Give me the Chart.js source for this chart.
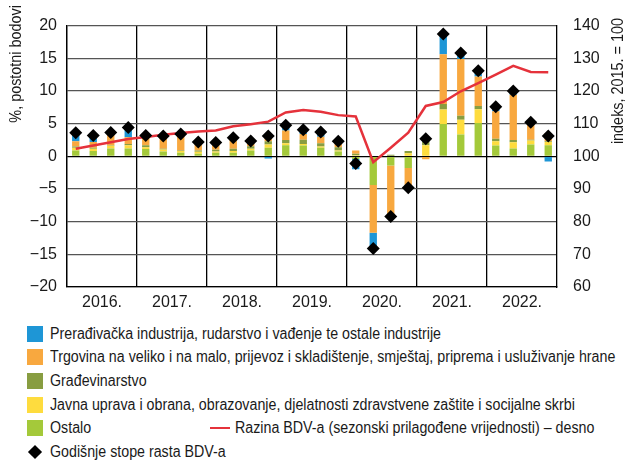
<!DOCTYPE html>
<html>
<head>
<meta charset="utf-8">
<script src="https://cdn.jsdelivr.net/npm/chart.js@4.4.1/dist/chart.umd.min.js"></script>
<style>
  body { margin: 0; background: #fff; }
  #wrap { position: relative; width: 632px; height: 464px; overflow: hidden;
          font-family: "Liberation Sans", Arial, sans-serif; color: #1a1a1a; }
  #chart { position: absolute; left: 0; top: 0; }
  .row { position: absolute; height: 24px; line-height: 24px; font-size: 16px; white-space: nowrap; }
  .sw { position: absolute; left: 27px; top: 4px; width: 16px; height: 16px; }
  .txt { position: absolute; left: 50px; top: 0; display: inline-block;
         transform: scaleX(0.89); transform-origin: left center; }
  .redline { position: absolute; left: 210px; top: 11px; width: 20px; height: 2px; background: #e5323b; }
  .diamond { position: absolute; left: 30px; top: 7px; width: 10px; height: 10px; background: #000; transform: rotate(45deg); }
</style>
</head>
<body>
<div id="wrap">
  <canvas id="chart" width="632" height="318"></canvas>
  <div id="legend"></div>
</div>
<script>
// ─── DATA ─────────────────────────────────────────────────────
const quarters = [
  "I.16", "II.16", "III.16", "IV.16",
  "I.17", "II.17", "III.17", "IV.17",
  "I.18", "II.18", "III.18", "IV.18",
  "I.19", "II.19", "III.19", "IV.19",
  "I.20", "II.20", "III.20", "IV.20",
  "I.21", "II.21", "III.21", "IV.21",
  "I.22", "II.22", "III.22", "IV.22"
];
const yearLabels = ["2016.", "2017.", "2018.", "2019.", "2020.", "2021.", "2022."];
const leftTicks  = [-20, -15, -10, -5, 0, 5, 10, 15, 20];
const rightTicks = [60, 70, 80, 90, 100, 110, 120, 130, 140];

// contributions, percentage points (stacked from zero in this order)
const ostalo = [
  0.9, 0.8, 1.2, 1.2,   1.1, 0.75, 0.55, 0.4,   0.55, 0.55, 0.9, 1.3,   1.7, 1.65, 1.3, 0.75,
  -0.4, -4.4, -1.4, -1.8,   0, 4.95, 3.35, 5.1,   1.65, 1.2, 1.8, 1.7
];
const javnaUprava = [
  0.4, 0.35, 0.4, 0.5,   0.3, 0.3, 0.25, 0.3,   0.2, 0.25, 0.25, 0.5,   0.3, 0.25, 0.2, 0.15,
  0.15, 0, 0, 0.45,   1.7, 2.2, 2.25, 2.1,   0.65, 0.95, 0.6, 0.5
];
const gradevinarstvo = [
  0.2, 0.15, 0.1, 0.2,   0.3, 0.1, 0.1, 0.2,   0.25, 0.35, 0.4, 0.5,   0.5, 0.65, 0.5, 0.5,
  0.25, 0, 0.25, 0.35,   0.55, 0.85, 0.6, 0.5,   0.4, 0.35, 0.15, 0.1
];
const trgovina = [
  0.8, 0.9, 1.7, 1.0,   1.2, 1.7, 2.3, 1.1,   1.0, 1.3, 0.6, 0.7,   1.45, 0.85, 1.0, 0.6,
  0.5, -7.3, -7.5, -2.6,   -0.45, 7.6, 8.7, 4.5,   4.2, 6.9, 2.5, 1.25
];
const preradivacka = [
  1.1, 1.0, 0.2, 1.4,   0.3, 0.2, 0.1, 0.1,   0, 0.2, 0.1, -0.35,   0.75, 0.4, 0.35, 0.1,
  -1.6, -2.1, -0.3, -0.8,   0.2, 3.0, 0.8, 0.9,   0.7, 0.7, 0.1, -0.8
];
// annual growth rates, %
const stopeRasta = [
  3.6, 3.2, 3.65, 4.4,   3.2, 3.1, 3.4, 2.2,   2.1, 2.85, 2.35, 3.1,   4.75, 4.05, 3.7, 2.3,
  -1.1, -14.1, -9.2, -4.8,   2.7, 18.7, 15.8, 13.1,   7.6, 10.0, 5.2, 3.1
];
// GVA level, index 2015 = 100 (right axis)
const razinaBDV = [
  102.3, 103.3, 104.3, 105.3,   105.9, 106.6, 107.1, 107.6,   107.9, 109.2, 109.8, 110.6,
  113.4, 114.2, 113.6, 112.6,   112.2, 98.2, 102.6, 107.2,   115.4, 116.6, 119.9, 122.4,
  125.0, 127.7, 125.8, 125.7
];

const barNames = [
  "Ostalo",
  "Javna uprava i obrana, obrazovanje, djelatnosti zdravstvene zaštite i socijalne skrbi",
  "Građevinarstvo",
  "Trgovina na veliko i na malo, prijevoz i skladištenje, smještaj, priprema i usluživanje hrane",
  "Prerađivačka industrija, rudarstvo i vađenje te ostale industrije"
];
const barColors = ["#a4c93a", "#fedc3e", "#889d41", "#f8a83f", "#1e96d6"];
const barValues = [ostalo, javnaUprava, gradevinarstvo, trgovina, preradivacka];
const lineName = "Razina BDV-a (sezonski prilagođene vrijednosti) – desno";
const diamondName = "Godišnje stope rasta BDV-a";
const leftTitle = "%, postotni bodovi";
const rightTitle = "indeks, 2015. = 100";

const FONT = '"Liberation Sans", Arial, sans-serif';
const INK = "#1a1a1a";

// ─── AXIS TITLES (rotated, a bit condensed like the original) ─
function drawTitle(c, text, x, y) {
    c.save();
    c.font = "16px " + FONT;
    c.fillStyle = INK;
    c.textAlign = "right";
    c.textBaseline = "middle";
    c.translate(x, y);
    c.rotate(-Math.PI / 2);
    c.scale(0.9, 1);
    c.fillText(text, 0, 0);
    c.restore();
}
const axisTitles = {
    id: "axisTitles",
    afterDraw(chart) {
        drawTitle(chart.ctx, leftTitle, 17, 5);
        drawTitle(chart.ctx, rightTitle, 619, 18);
    }
};

// ─── CHART ────────────────────────────────────────────────────
const datasets = [
    {
        type: "line",
        label: diamondName,
        data: stopeRasta,
        yAxisID: "y",
        stack: "diamonds",
        showLine: false,
        pointStyle: "rectRot",
        pointRadius: 6.5,
        pointBackgroundColor: "#000",
        pointBorderWidth: 0,
        order: 0
    },
    {
        type: "line",
        label: lineName,
        data: razinaBDV,
        yAxisID: "y1",
        borderColor: "#e5323b",
        borderWidth: 2.5,
        pointRadius: 0,
        tension: 0,
        order: 1
    }
];
barValues.forEach((vals, i) => {
    datasets.push({
        type: "bar",
        label: barNames[i],
        data: vals,
        yAxisID: "y",
        backgroundColor: barColors[i],
        borderWidth: 0,
        categoryPercentage: 1,
        barPercentage: 0.42,
        order: 2
    });
});

new Chart(document.getElementById("chart"), {
    data: { labels: quarters, datasets: datasets },
    options: {
        responsive: false,
        animation: false,
        layout: { padding: { top: 22 } },
        plugins: { legend: { display: false }, tooltip: { enabled: false } },
        scales: {
            x: {
                stacked: true,
                ticks: { display: false },
                grid: {
                    offset: true,
                    drawTicks: false,
                    color: c => (c.index % 4 === 0 ? "#000" : "rgba(0,0,0,0)"),
                    lineWidth: 1.3
                },
                border: { display: true, color: "#000", width: 1.3 },
                afterFit: s => { s.height = 0; }
            },
            x2: {
                type: "linear",
                position: "bottom",
                min: 0,
                max: 28,
                grid: { display: false, drawTicks: false },
                border: { display: false },
                afterBuildTicks: s => { s.ticks = yearLabels.map((l, i) => ({ value: 2 + i * 4 })); },
                ticks: {
                    autoSkip: false,
                    maxRotation: 0,
                    padding: 6,
                    color: INK,
                    font: { family: FONT, size: 16 },
                    callback: v => yearLabels[(v - 2) / 4]
                },
                afterFit: s => { s.height = 31; }
            },
            y: {
                stacked: true,
                position: "left",
                min: -20,
                max: 20,
                afterBuildTicks: s => { s.ticks = leftTicks.map(v => ({ value: v })); },
                ticks: {
                    padding: 10,
                    color: INK,
                    font: { family: FONT, size: 16 },
                    callback: v => (v < 0 ? "\u2212" + Math.abs(v) : String(v))
                },
                grid: {
                    drawTicks: false,
                    color: c => (c.tick && c.tick.value === 0 ? "#000" : "#555"),
                    lineWidth: 1.3
                },
                border: { display: true, color: "#000", width: 1.3 },
                afterFit: s => { s.width = 67; }
            },
            y1: {
                position: "right",
                min: 60,
                max: 140,
                afterBuildTicks: s => { s.ticks = rightTicks.map(v => ({ value: v })); },
                ticks: {
                    padding: 16,
                    color: INK,
                    font: { family: FONT, size: 16 }
                },
                grid: { display: false, drawTicks: false },
                border: { display: true, color: "#000", width: 1.3 },
                afterFit: s => { s.width = 75; }
            }
        }
    },
    plugins: [axisTitles]
});

// ─── LEGEND ───────────────────────────────────────────────────
const legend = document.getElementById("legend");
const rowTops = [322, 345, 369, 393, 416, 440];
function addRow(top, inner) {
    const row = document.createElement("div");
    row.className = "row";
    row.style.top = top + "px";
    row.style.left = "0px";
    row.innerHTML = inner;
    legend.appendChild(row);
}
// legend lists bar series top-down (reverse of stacking)
for (let i = barNames.length - 1, r = 0; i >= 0; i--, r++) {
    addRow(rowTops[r],
        `<span class="sw" style="background:${barColors[i]}"></span><span class="txt">${barNames[i]}</span>`);
}
addRow(rowTops[4],
    `<span class="redline"></span><span class="txt" style="left:235px">${lineName}</span>`);
addRow(rowTops[5],
    `<span class="diamond"></span><span class="txt">${diamondName}</span>`);
</script>
</body>
</html>
